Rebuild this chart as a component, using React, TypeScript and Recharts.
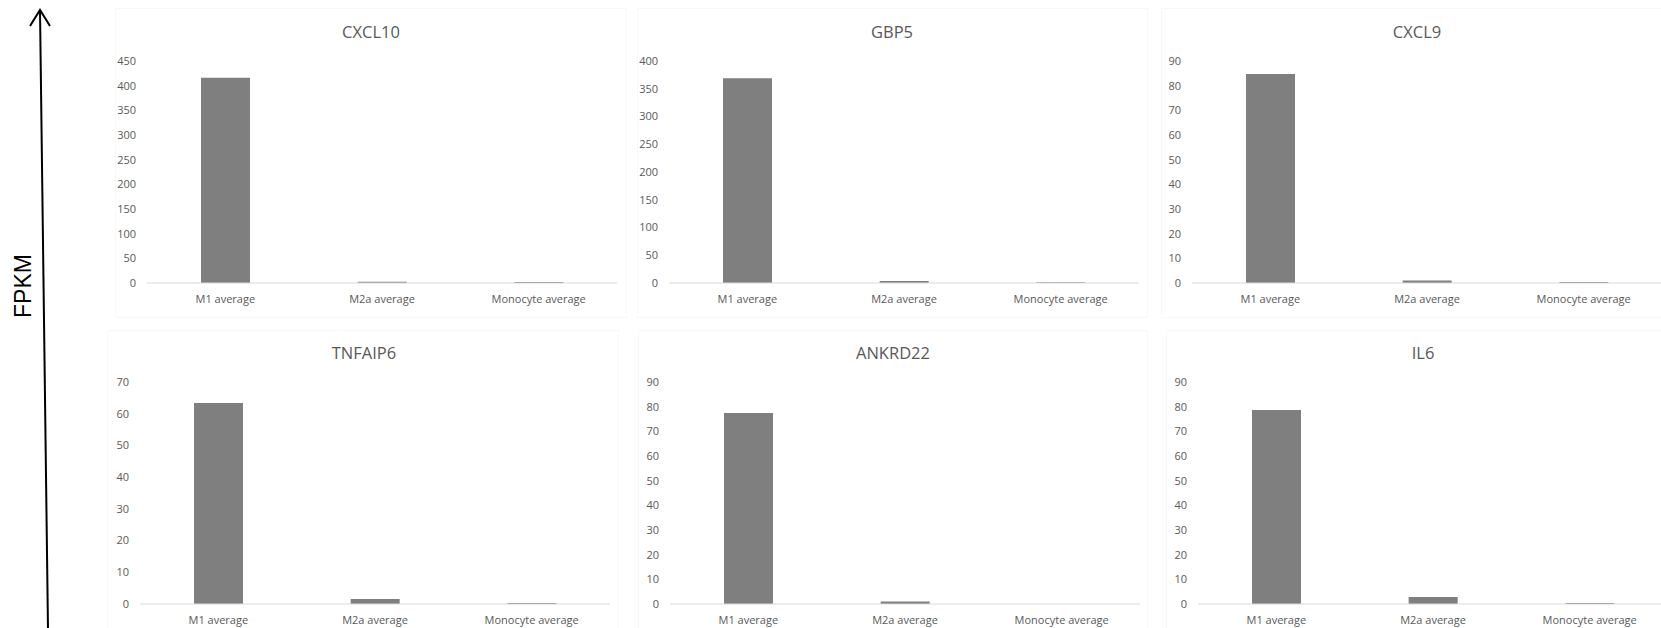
import React from 'react';
import { BarChart, Bar, XAxis, YAxis } from 'recharts';

// FPKM per cell type, one array per gene
const categories = ['M1 average', 'M2a average', 'Monocyte average'];
const cxcl10 = [416, 2.5, 1.8];
const gbp5 = [369, 3.5, 1.5];
const cxcl9 = [84.7, 1.0, 0.4];
const tnfaip6 = [63.4, 1.6, 0.3];
const ankrd22 = [77.4, 1.0, 0.05];
const il6 = [78.6, 2.8, 0.4];

const ticks450 = [0, 50, 100, 150, 200, 250, 300, 350, 400, 450];
const ticks400 = [0, 50, 100, 150, 200, 250, 300, 350, 400];
const ticks90 = [0, 10, 20, 30, 40, 50, 60, 70, 80, 90];
const ticks70 = [0, 10, 20, 30, 40, 50, 60, 70];

const TEXT = '#595959';
const BAR = '#7f7f7f';
const PLOT_W = 470;
const PLOT_H = 222;
const AXIS_W = 50;

interface PanelSpec {
  title: string;
  values: number[];
  ticks: number[];
  plotLeft: number;
  plotTop: number;
  box: [number, number, number, number]; // left, top, right, bottom
  titleX: number;
  titleY: number;
}

const panels: PanelSpec[] = [
  { title: 'CXCL10', values: cxcl10, ticks: ticks450, plotLeft: 147, plotTop: 61, box: [115, 8, 627, 318], titleX: 371, titleY: 32 },
  { title: 'GBP5', values: gbp5, ticks: ticks400, plotLeft: 669, plotTop: 61, box: [637, 8, 1148, 318], titleX: 892, titleY: 32 },
  { title: 'CXCL9', values: cxcl9, ticks: ticks90, plotLeft: 1192, plotTop: 61, box: [1161, 8, 1680, 318], titleX: 1417, titleY: 32 },
  { title: 'TNFAIP6', values: tnfaip6, ticks: ticks70, plotLeft: 140, plotTop: 382, box: [107, 330, 619, 660], titleX: 364, titleY: 353 },
  { title: 'ANKRD22', values: ankrd22, ticks: ticks90, plotLeft: 670, plotTop: 382, box: [638, 330, 1148, 660], titleX: 893, titleY: 353 },
  { title: 'IL6', values: il6, ticks: ticks90, plotLeft: 1198, plotTop: 382, box: [1166, 330, 1680, 660], titleX: 1423, titleY: 353 },
];

function Panel({ p }: { p: PanelSpec }) {
  const data = categories.map((name, i) => ({ name, value: p.values[i] }));
  const [bl, bt, br, bb] = p.box;
  const top = 10;
  return (
    <>
      <div
        style={{
          position: 'absolute',
          left: bl,
          top: bt,
          width: br - bl,
          height: bb - bt,
          border: '1px solid #f8f8f8',
          boxSizing: 'border-box',
        }}
      />
      <div
        style={{
          position: 'absolute',
          left: p.titleX - 100,
          top: p.titleY - 12,
          width: 200,
          lineHeight: '24px',
          textAlign: 'center',
          fontSize: 16.5,
          color: TEXT,
        }}
      >
        {p.title}
      </div>
      <div style={{ position: 'absolute', left: p.plotLeft - AXIS_W, top: p.plotTop - top }}>
        <BarChart
          width={AXIS_W + PLOT_W}
          height={top + PLOT_H + 32}
          data={data}
          margin={{ top, right: 0, bottom: 0, left: 0 }}
        >
          <XAxis
            dataKey="name"
            interval={0}
            height={32}
            axisLine={{ stroke: '#d9d9d9' }}
            tickLine={false}
            tickMargin={6}
            tick={{ fill: TEXT, fontSize: 11 }}
          />
          <YAxis
            width={AXIS_W}
            domain={[0, p.ticks[p.ticks.length - 1]]}
            ticks={p.ticks}
            interval={0}
            axisLine={false}
            tickLine={false}
            tickMargin={5}
            tick={{ fill: TEXT, fontSize: 11 }}
          />
          <Bar dataKey="value" fill={BAR} barSize={49} isAnimationActive={false} />
        </BarChart>
      </div>
    </>
  );
}

export default function App() {
  return (
    <div
      style={{
        position: 'relative',
        width: 1661,
        height: 628,
        overflow: 'hidden',
        background: '#fff',
        fontFamily: "'Open Sans', sans-serif",
      }}
    >
      <style>{'body{margin:0}'}</style>
      {panels.map((p) => (
        <Panel key={p.title} p={p} />
      ))}
      <svg width={80} height={628} style={{ position: 'absolute', left: 0, top: 0 }}>
        <line x1={40} y1={10} x2={48} y2={630} stroke="#000" strokeWidth={2} />
        <polyline points="30,26 40,10 50,26" fill="none" stroke="#000" strokeWidth={2} />
        <text
          transform="translate(31,286) rotate(-90)"
          textAnchor="middle"
          fontFamily="'Liberation Sans', Arial, sans-serif"
          fontSize={23}
          fill="#000"
        >
          FPKM
        </text>
      </svg>
    </div>
  );
}
